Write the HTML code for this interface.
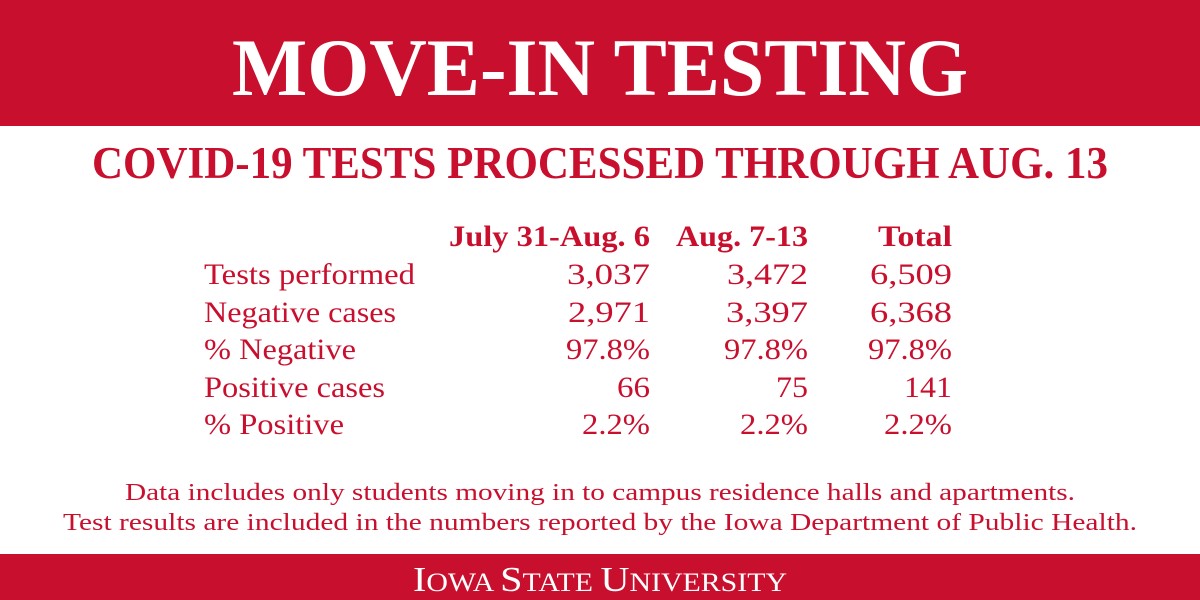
<!DOCTYPE html>
<html><head><meta charset="utf-8"><style>
html,body{margin:0;padding:0;background:#fff;}
svg{display:block;}
text{font-family:"Liberation Serif",serif;fill:#c8102e;}
</style></head><body>
<svg width="1200" height="600" viewBox="0 0 1200 600" xmlns="http://www.w3.org/2000/svg">
<rect x="0" y="0" width="1200" height="126" fill="#c8102e"/>
<text x="600" y="95" text-anchor="middle" font-size="82" font-weight="bold" style="fill:#fff" textLength="736" lengthAdjust="spacingAndGlyphs">MOVE-IN TESTING</text>
<text x="600" y="178" text-anchor="middle" font-size="45" font-weight="bold" textLength="1016" lengthAdjust="spacingAndGlyphs">COVID-19 TESTS PROCESSED THROUGH AUG. 13</text>
<g font-size="30" font-weight="bold" text-anchor="end">
<text x="650" y="246" textLength="201" lengthAdjust="spacingAndGlyphs">July 31-Aug. 6</text>
<text x="808" y="246" textLength="132" lengthAdjust="spacingAndGlyphs">Aug. 7-13</text>
<text x="952" y="246" textLength="74" lengthAdjust="spacingAndGlyphs">Total</text>
</g>
<g font-size="30">
<text x="204" y="284" textLength="211" lengthAdjust="spacingAndGlyphs">Tests performed</text>
<text x="204" y="322" textLength="192" lengthAdjust="spacingAndGlyphs">Negative cases</text>
<text x="204" y="359" textLength="152" lengthAdjust="spacingAndGlyphs">% Negative</text>
<text x="204" y="397" textLength="181" lengthAdjust="spacingAndGlyphs">Positive cases</text>
<text x="204" y="434" textLength="140" lengthAdjust="spacingAndGlyphs">% Positive</text>
</g>
<g font-size="30" text-anchor="end" lengthAdjust="spacingAndGlyphs">
<text x="650" y="284" textLength="83" lengthAdjust="spacingAndGlyphs">3,037</text><text x="808" y="284" textLength="81" lengthAdjust="spacingAndGlyphs">3,472</text><text x="952" y="284" textLength="82" lengthAdjust="spacingAndGlyphs">6,509</text>
<text x="650" y="322" textLength="82" lengthAdjust="spacingAndGlyphs">2,971</text><text x="808" y="322" textLength="82" lengthAdjust="spacingAndGlyphs">3,397</text><text x="952" y="322" textLength="82" lengthAdjust="spacingAndGlyphs">6,368</text>
<text x="650" y="359" textLength="84" lengthAdjust="spacingAndGlyphs">97.8%</text><text x="808" y="359" textLength="84" lengthAdjust="spacingAndGlyphs">97.8%</text><text x="952" y="359" textLength="84" lengthAdjust="spacingAndGlyphs">97.8%</text>
<text x="650" y="397" textLength="33" lengthAdjust="spacingAndGlyphs">66</text><text x="808" y="397" textLength="32" lengthAdjust="spacingAndGlyphs">75</text><text x="952" y="397" textLength="48" lengthAdjust="spacingAndGlyphs">141</text>
<text x="650" y="434" textLength="68" lengthAdjust="spacingAndGlyphs">2.2%</text><text x="808" y="434" textLength="68" lengthAdjust="spacingAndGlyphs">2.2%</text><text x="952" y="434" textLength="68" lengthAdjust="spacingAndGlyphs">2.2%</text>
</g>
<text x="600" y="500" text-anchor="middle" font-size="24" textLength="950" lengthAdjust="spacingAndGlyphs">Data includes only students moving in to campus residence halls and apartments.</text>
<text x="600" y="530" text-anchor="middle" font-size="24" textLength="1074" lengthAdjust="spacingAndGlyphs">Test results are included in the numbers reported by the Iowa Department of Public Health.</text>
<rect x="0" y="554" width="1200" height="46" fill="#c8102e"/>
<text x="413" y="591" font-size="26" style="fill:#fff" textLength="374" lengthAdjust="spacingAndGlyphs"><tspan font-size="35">I</tspan>OWA <tspan font-size="35">S</tspan>TATE <tspan font-size="35">U</tspan>NIVERSITY</text>
</svg>
</body></html>
